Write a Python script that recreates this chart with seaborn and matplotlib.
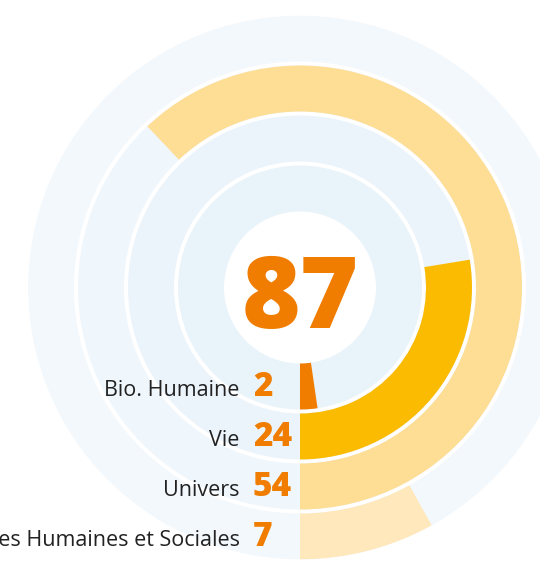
import numpy as np
import matplotlib.pyplot as plt
import seaborn as sns

# ── data ─────────────────────────────────────────────────────────────────────
categories = ["Bio. Humaine", "Vie", "Univers", "Sciences Humaines et Sociales"]
values = [2, 24, 54, 7]
total = sum(values)

# ── style ────────────────────────────────────────────────────────────────────
sns.set_theme(style="white")
plt.rcParams['font.family'] = ['Open Sans', 'DejaVu Sans']

bar_colors = ['#F07D00', '#FABB00', '#FEDD94', '#FFE8BC']
track_colors = ['#E8F3FA', '#ECF4FB', '#EFF6FC', '#F3F8FC']
orange = '#F07D00'

# ring geometry (pixel-like radial units)
hole = 76
ring_w = 46
gap = 4

W, H = 540, 562
fig = plt.figure(figsize=(W / 100, H / 100), dpi=100)
R = hole + 4 * ring_w + 3 * gap      # outer radius
cx, cy = 300, 287.5                  # centre in px from top-left
ax = fig.add_axes([(cx - R) / W, (H - cy - R) / H, 2 * R / W, 2 * R / H],
                  projection='polar')
ax.set_theta_zero_location('S')
ax.set_theta_direction(1)
ax.set_ylim(0, R)

for i, (cat, val) in enumerate(zip(categories, values)):
    inner = hole + i * (ring_w + gap)
    # background track
    ax.bar(np.pi, ring_w, width=2 * np.pi, bottom=inner,
           color=track_colors[i], edgecolor='none', linewidth=0)
    # value arc
    ang = val / total * 2 * np.pi
    ax.bar(ang / 2, ring_w, width=ang, bottom=inner,
           color=bar_colors[i], edgecolor='none', linewidth=0)
    mid = inner + ring_w / 2
    ax.annotate(cat, xy=(0, mid), xytext=(-43.5, -7.2), textcoords='offset points',
                ha='right', va='baseline', fontsize=15.5, color='#222222',
                annotation_clip=False)
    ax.annotate(str(val), xy=(0, mid), xytext=(-34, -7.2), textcoords='offset points',
                ha='left', va='baseline', fontsize=24, fontweight='heavy',
                color=orange, annotation_clip=False)

ax.annotate(str(total), xy=(0, 0), xytext=(0, -29), textcoords='offset points',
            ha='center', va='baseline', fontsize=72, fontweight='heavy',
            color=orange)

ax.set_axis_off()
fig.savefig('out.png', dpi=100, facecolor='white')
